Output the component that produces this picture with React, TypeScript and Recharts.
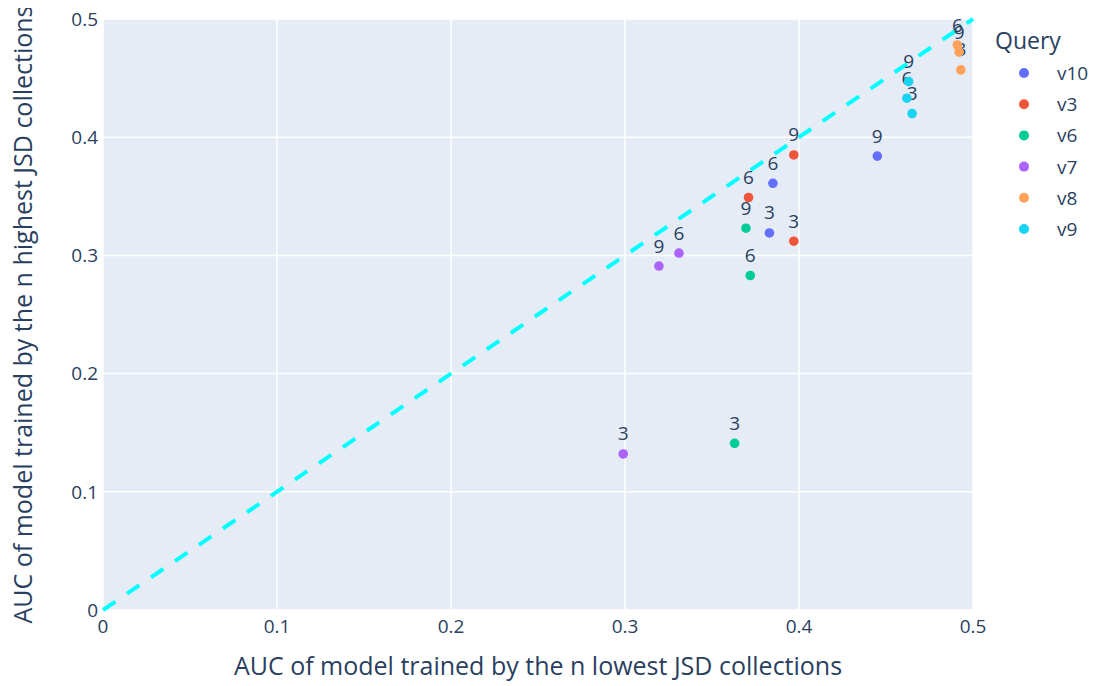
import { ScatterChart, Scatter, XAxis, YAxis, CartesianGrid, ReferenceLine, Legend } from 'recharts'

const nLabels = ['3', '6', '9']
const seriesNames = ['v10', 'v3', 'v6', 'v7', 'v8', 'v9']
const seriesColors = ['#636efa', '#EF553B', '#00cc96', '#ab63fa', '#FFA15A', '#19d3f3']

const v10x = [0.383, 0.385, 0.445]
const v10y = [0.319, 0.361, 0.384]
const v3x = [0.397, 0.371, 0.397]
const v3y = [0.312, 0.349, 0.385]
const v6x = [0.363, 0.372, 0.3695]
const v6y = [0.141, 0.283, 0.323]
const v7x = [0.299, 0.331, 0.3195]
const v7y = [0.132, 0.302, 0.291]
const v8x = [0.493, 0.491, 0.492]
const v8y = [0.457, 0.478, 0.472]
const v9x = [0.465, 0.462, 0.463]
const v9y = [0.42, 0.433, 0.447]

const axisTicks = [0, 0.1, 0.2, 0.3, 0.4, 0.5]
const diagonal = [{ x: 0, y: 0 }, { x: 0.5, y: 0.5 }]

const xTitle = 'AUC of model trained by the n lowest JSD collections'
const yTitle = 'AUC of model trained by the n highest JSD collections'
const legendTitle = 'Query'

const FONT = '"Open Sans", sans-serif'
const TEXT = '#2a3f5f'

const build = (xs: number[], ys: number[]) =>
  xs.map((x, i) => ({ x, y: ys[i], n: nLabels[i] }))

const seriesData = [
  build(v10x, v10y),
  build(v3x, v3y),
  build(v6x, v6y),
  build(v7x, v7y),
  build(v8x, v8y),
  build(v9x, v9y),
]

const fmt = (v: number) => (v === 0 ? '0' : String(v))

function makeDot(color: string) {
  return (props: any) => {
    const { cx, cy, payload } = props
    return (
      <g>
        <circle cx={cx} cy={cy} r={4.8} fill={color} />
        <text
          x={cx}
          y={cy - 13.5}
          textAnchor="middle"
          fontSize={19}
          fontFamily={FONT}
          fill={TEXT}
        >
          {payload.n}
        </text>
      </g>
    )
  }
}

function YTitle(props: any) {
  const { viewBox } = props
  const cy = viewBox.y + viewBox.height / 2
  const x = 24
  return (
    <text
      x={x}
      y={cy}
      transform={`rotate(-90, ${x}, ${cy})`}
      textAnchor="middle"
      fontSize={25}
      fontFamily={FONT}
      fill={TEXT}
    >
      {yTitle}
    </text>
  )
}

function XTitle(props: any) {
  const { viewBox } = props
  const cx = viewBox.x + viewBox.width / 2
  return (
    <text x={cx} y={667} textAnchor="middle" fontSize={25} fontFamily={FONT} fill={TEXT}>
      {xTitle}
    </text>
  )
}

function QueryLegend() {
  return (
    <svg width={112} height={240} style={{ display: 'block' }}>
      <text x={5} y={29} fontSize={23} fontFamily={FONT} fill={TEXT}>
        {legendTitle}
      </text>
      {seriesNames.map((name, i) => {
        const cy = 53 + i * 31.2
        return (
          <g key={name}>
            <circle cx={34} cy={cy} r={5} fill={seriesColors[i]} />
            <text x={67} y={cy + 7} fontSize={19} fontFamily={FONT} fill={TEXT}>
              {name}
            </text>
          </g>
        )
      })}
    </svg>
  )
}

export default function App() {
  return (
    <div style={{ position: 'relative', width: 1094, height: 678, fontFamily: FONT }}>
      <ScatterChart
        width={1094}
        height={678}
        margin={{ top: 11, right: 129, left: 0, bottom: 0 }}
        style={{ overflow: 'visible' }}
      >
        <CartesianGrid fill="#E5ECF6" stroke="#ffffff" strokeWidth={1.5} />
        <XAxis
          type="number"
          dataKey="x"
          domain={[0, 0.5]}
          ticks={axisTicks}
          tickFormatter={fmt}
          axisLine={false}
          tickLine={false}
          tickSize={0}
          tickMargin={10}
          height={76}
          tick={{ fontSize: 19, fill: TEXT, fontFamily: FONT }}
          label={<XTitle />}
        />
        <YAxis
          type="number"
          dataKey="y"
          domain={[0, 0.5]}
          ticks={axisTicks}
          tickFormatter={fmt}
          axisLine={false}
          tickLine={false}
          tickSize={0}
          tickMargin={5}
          width={95}
          tick={{ fontSize: 19, fill: TEXT, fontFamily: FONT }}
          label={<YTitle />}
        />
        <ReferenceLine
          segment={diagonal}
          stroke="#00FFFF"
          strokeWidth={4}
          strokeDasharray="15 14"
        />
        {seriesData.map((data, i) => (
          <Scatter
            key={seriesNames[i]}
            name={seriesNames[i]}
            data={data}
            fill={seriesColors[i]}
            shape={makeDot(seriesColors[i])}
            isAnimationActive={false}
          />
        ))}
        <Legend
          layout="vertical"
          align="center"
          verticalAlign="middle"
          content={() => <QueryLegend />}
          wrapperStyle={{ position: 'absolute', left: 982, top: 12, width: 112 }}
        />
      </ScatterChart>
    </div>
  )
}
